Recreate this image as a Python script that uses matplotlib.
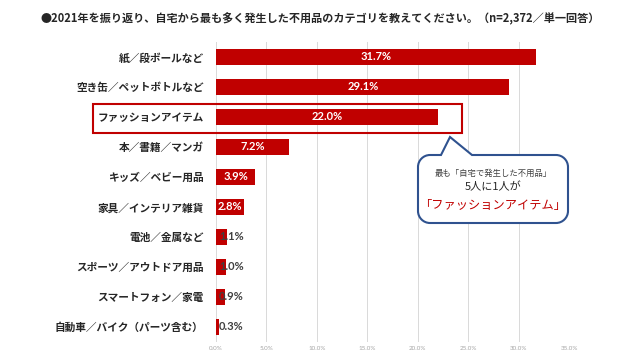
import matplotlib
matplotlib.use("Agg")
import matplotlib.pyplot as plt
from matplotlib.path import Path
from matplotlib.patches import PathPatch, Rectangle
from matplotlib.transforms import Affine2D

plt.rcParams['font.family'] = ['Noto Sans CJK JP', 'DejaVu Sans']

title = "●2021年を振り返り、自宅から最も多く発生した不用品のカテゴリを教えてください。（n=2,372／単一回答）"
categories = [
    "紙／段ボールなど",
    "空き缶／ペットボトルなど",
    "ファッションアイテム",
    "本／書籍／マンガ",
    "キッズ／ベビー用品",
    "家具／インテリア雑貨",
    "電池／金属など",
    "スポーツ／アウトドア用品",
    "スマートフォン／家電",
    "自動車／バイク（パーツ含む）",
]
values = [31.7, 29.1, 22.0, 7.2, 3.9, 2.8, 1.1, 1.0, 0.9, 0.3]
xticks = [0, 5, 10, 15, 20, 25, 30, 35]
xtick_labels = ["0.0%", "5.0%", "10.0%", "15.0%", "20.0%", "25.0%", "30.0%", "35.0%"]

RED = "#C00000"
BLUE = "#2F528F"
W, H = 640, 360

fig = plt.figure(figsize=(6.4, 3.6), dpi=100)
ax = fig.add_axes([216 / W, 1 - 342 / H, 353 / W, 300 / H])

ypos = list(range(len(categories)))
ax.barh(ypos, values, height=0.52, color=RED, zorder=2)
ax.set_xlim(0, 35)
ax.set_ylim(len(categories) - 0.5, -0.5)
ax.set_xticks(xticks)
ax.set_xticklabels(xtick_labels, fontsize=4.5, color="#A6A6A6", family=['Lato', 'DejaVu Sans'])
ax.set_yticks(ypos)
ax.set_yticklabels(categories, fontsize=7.7, fontweight="bold", color="#262626")
ax.tick_params(axis="both", length=0)
ax.tick_params(axis="y", pad=9)
ax.tick_params(axis="x", pad=3)
ax.grid(axis="x", color="#D9D9D9", linewidth=0.7, zorder=0)
for s in ax.spines.values():
    s.set_visible(False)

for y, v in zip(ypos, values):
    if v >= 2.5:
        ax.text(v / 2, y, f"{v:.1f}%", ha="center", va="center", color="white",
                fontsize=8, fontweight="bold", family=['Lato', 'DejaVu Sans'], zorder=3)
    else:
        ax.text(0.3, y, f"{v:.1f}%", ha="left", va="center", color="#404040",
                fontsize=8, fontweight="bold", family=['Lato', 'DejaVu Sans'], zorder=3)

fig.text(0.5, 1 - 19 / H, title, ha="center", va="center", fontsize=8,
         fontweight="bold", color="#262626")

# pixel coordinates (origin top-left) -> figure
px = Affine2D().scale(1 / W, -1 / H).translate(0, 1) + fig.transFigure

# highlight box around the fashion row
fig.add_artist(Rectangle((93, 104), 369, 29, fill=False, edgecolor=RED,
                         linewidth=1.5, transform=px, zorder=5))

# speech bubble
x0, x1, y0, y1, r = 418, 568, 155, 223, 12
k = 0.55 * r
verts = [
    (x0 + r, y0), (441, y0), (450, 137), (472, y0), (x1 - r, y0),
    (x1 - r + k, y0), (x1, y0 + r - k), (x1, y0 + r),
    (x1, y1 - r),
    (x1, y1 - r + k), (x1 - r + k, y1), (x1 - r, y1),
    (x0 + r, y1),
    (x0 + r - k, y1), (x0, y1 - r + k), (x0, y1 - r),
    (x0, y0 + r),
    (x0, y0 + r - k), (x0 + r - k, y0), (x0 + r, y0),
    (x0 + r, y0),
]
codes = [Path.MOVETO, Path.LINETO, Path.LINETO, Path.LINETO, Path.LINETO,
         Path.CURVE4, Path.CURVE4, Path.CURVE4,
         Path.LINETO,
         Path.CURVE4, Path.CURVE4, Path.CURVE4,
         Path.LINETO,
         Path.CURVE4, Path.CURVE4, Path.CURVE4,
         Path.LINETO,
         Path.CURVE4, Path.CURVE4, Path.CURVE4,
         Path.CLOSEPOLY]
fig.add_artist(PathPatch(Path(verts, codes), facecolor="white", edgecolor=BLUE,
                         linewidth=1.5, transform=px, zorder=6))

cx = (x0 + x1) / 2 / W
fig.text(cx, 1 - 173 / H, "最も「自宅で発生した不用品」", ha="center", va="center",
         fontsize=6, color="#404040", zorder=7)
fig.text(cx, 1 - 187 / H, "5人に1人が", ha="center", va="center",
         fontsize=8, color="#262626", zorder=7)
fig.text(cx, 1 - 205 / H, "「ファッションアイテム」", ha="center", va="center",
         fontsize=8.8, color=RED, zorder=7)

fig.savefig("out.png", dpi=100)
